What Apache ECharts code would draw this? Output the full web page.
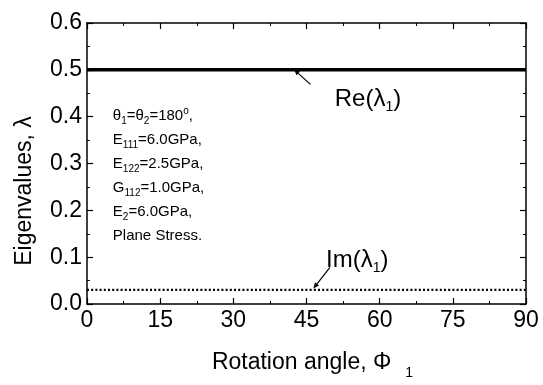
<!DOCTYPE html>
<html><head><meta charset="utf-8">
<script src="https://cdn.jsdelivr.net/npm/echarts@6/dist/echarts.min.js"></script>
<style>html,body{margin:0;padding:0;background:#fff}#c{width:543px;height:385px}</style>
</head><body><div id="c"></div>
<script>
var phi = [0, 15, 30, 45, 60, 75, 90];
var reLambda1 = [0.5, 0.5, 0.5, 0.5, 0.5, 0.5, 0.5];
var imLambda1 = [0.03, 0.03, 0.03, 0.03, 0.03, 0.03, 0.03];
var xTicks = [0, 15, 30, 45, 60, 75, 90];
var yTicks = [0.0, 0.1, 0.2, 0.3, 0.4, 0.5, 0.6];
var infoLines = [
  '{t|θ}{s|1}{t|=θ}{s|2}{t|=180}{o|o}{t|,}',
  '{t|E}{s|111}{t|=6.0GPa,}',
  '{t|E}{s|122}{t|=2.5GPa,}',
  '{t|G}{s|112}{t|=1.0GPa,}',
  '{t|E}{s|2}{t|=6.0GPa,}',
  '{t|Plane Stress.}'
];
var FONT = 'Liberation Sans, Arial, sans-serif';
var chart = echarts.init(document.getElementById('c'));
function pairs(xs, ys){ return xs.map(function(x,i){return [x, ys[i]];}); }
var axisCommon = {
  axisLine:{show:true,onZero:false,lineStyle:{color:'#000',width:1.5}},
  axisTick:{show:true,inside:true,length:6,lineStyle:{color:'#000',width:1.2}},
  minorTick:{show:true,splitNumber:2,length:3,lineStyle:{color:'#000',width:1}},
  splitLine:{show:false}
};
var rich = {
  t:{fontFamily:FONT,fontSize:15,color:'#000'},
  s:{fontFamily:FONT,fontSize:10,color:'#000',padding:[10,0,0,0]},
  o:{fontFamily:FONT,fontSize:10,color:'#000',padding:[0,0,10,0]}
};
chart.setOption({
  animation:false,
  backgroundColor:'#fff',
  grid:{left:87,right:17,top:23,bottom:78},
  xAxis:[
    Object.assign({type:'value',min:0,max:90,interval:15,position:'bottom',
      name:'Rotation angle, Φ{s|1}',nameLocation:'middle',nameGap:42,
      nameTextStyle:{fontFamily:FONT,fontSize:23,color:'#000',padding:[0,0,0,12],
        rich:{s:{fontFamily:FONT,fontSize:14,color:'#000',padding:[20,0,0,14]}}},
      axisLabel:{fontFamily:FONT,fontSize:23,color:'#000',margin:5}}, axisCommon),
    Object.assign({type:'value',min:0,max:90,interval:15,position:'top',
      axisLabel:{show:false}}, axisCommon)
  ],
  yAxis:[
    Object.assign({type:'value',min:0,max:0.6,interval:0.1,position:'left',
      axisLabel:{fontFamily:FONT,fontSize:23,color:'#000',margin:5,
        formatter:function(v){return v.toFixed(1);}}}, axisCommon),
    Object.assign({type:'value',min:0,max:0.6,interval:0.1,position:'right',
      axisLabel:{show:false}}, axisCommon)
  ],
  series:[
    {name:'Re(λ1)',type:'line',data:pairs(phi,reLambda1),showSymbol:false,
      lineStyle:{color:'#000',width:3.5}},
    {name:'Im(λ1)',type:'line',data:pairs(phi,imLambda1),showSymbol:false,
      lineStyle:{color:'#000',width:2.2,type:[2,2.2]}}
  ]
});
function px(x,y){ return chart.convertToPixel({xAxisIndex:0,yAxisIndex:0},[x,y]); }
function arrow(from,to){
  var a=px(from[0],from[1]), b=px(to[0],to[1]);
  var dx=b[0]-a[0], dy=b[1]-a[1], L=Math.sqrt(dx*dx+dy*dy), ux=dx/L, uy=dy/L;
  var hl=6, hw=2.5;
  var base=[b[0]-ux*hl,b[1]-uy*hl];
  return [
    {type:'line',shape:{x1:a[0],y1:a[1],x2:base[0],y2:base[1]},style:{stroke:'#000',lineWidth:1.2}},
    {type:'polygon',shape:{points:[[b[0],b[1]],[base[0]-uy*hw,base[1]+ux*hw],[base[0]+uy*hw,base[1]-ux*hw]]},style:{fill:'#000'}}
  ];
}
var g=[];
var labRich={t:{fontFamily:FONT,fontSize:24,color:'#000'},s:{fontFamily:FONT,fontSize:14,color:'#000',padding:[16,0,0,0]}};
var reLab=px(50.8,0.437), imLab=px(49.0,0.093);
g.push({type:'text',x:reLab[0],y:reLab[1],style:{text:'{t|Re(λ}{s|1}{t|)}',rich:labRich,verticalAlign:'middle'}});
g.push({type:'text',x:imLab[0],y:imLab[1],style:{text:'{t|Im(λ}{s|1}{t|)}',rich:labRich,verticalAlign:'middle'}});
g=g.concat(arrow([45.8,0.469],[42.4,0.501]));
g=g.concat(arrow([49.8,0.078],[46.4,0.033]));
var tp=px(5.3,0.401);
infoLines.forEach(function(s,i){
  g.push({type:'text',x:tp[0],y:tp[1]+i*24,style:{text:s,rich:rich,verticalAlign:'middle'}});
});
// y-axis title
g.push({type:'text',x:25,y:191,rotation:Math.PI/2,style:{text:'Eigenvalues, λ',fontFamily:FONT,fontSize:23,fill:'#000',align:'center',verticalAlign:'middle'}});
chart.setOption({graphic:g});
</script></body></html>
